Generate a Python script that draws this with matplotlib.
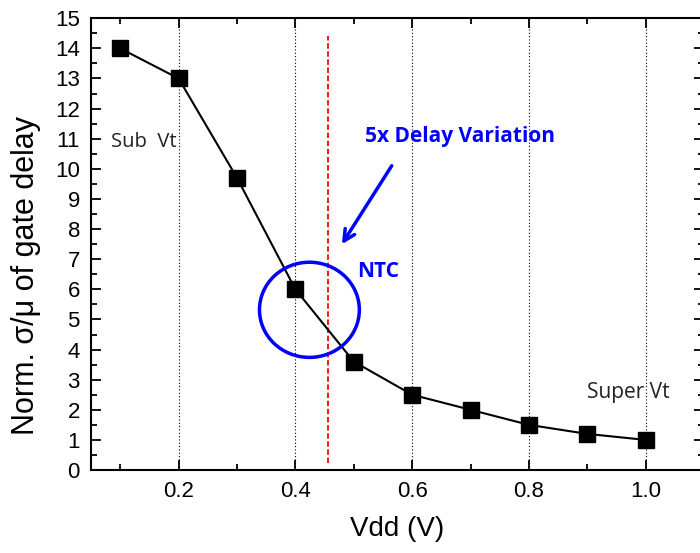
import matplotlib.pyplot as plt
from matplotlib.patches import Ellipse
from matplotlib.ticker import MultipleLocator, FormatStrFormatter

vdd = [0.1, 0.2, 0.3, 0.4, 0.5, 0.6, 0.7, 0.8, 0.9, 1.0]
norm_var = [14.0, 13.0, 9.7, 6.0, 3.6, 2.5, 2.0, 1.5, 1.2, 1.0]
ntc_vdd = 0.455

plt.rcParams['font.family'] = ['Liberation Sans', 'DejaVu Sans']

fig = plt.figure(figsize=(7, 5.53), dpi=100)
ax = fig.add_axes([0.13, 0.150, 0.876, 0.817])

# dotted vertical grid at major x ticks
for x in [0.2, 0.4, 0.6, 0.8, 1.0]:
    ax.axvline(x, color='black', linestyle=(0, (1, 2)), linewidth=0.8, zorder=1)

ax.plot(vdd, norm_var, color='black', linewidth=1.5, marker='s',
        markersize=11, markerfacecolor='black', zorder=3)

# NTC boundary
ax.plot([ntc_vdd, ntc_vdd], [0.23, 14.4], color='red', linestyle=(0, (3, 1.5)),
        linewidth=1.3, zorder=2)

# circle around the NTC region
ax.add_patch(Ellipse((0.424, 5.32), 0.171, 3.16, fill=False,
                     edgecolor='blue', linewidth=2.5, zorder=4))

ax.annotate('', xy=(0.477, 7.42), xytext=(0.5675, 10.18),
            arrowprops=dict(arrowstyle='->', color='blue', lw=2.5,
                            mutation_scale=20))

txt_fonts = ['Open Sans', 'DejaVu Sans']
ax.text(0.52, 11.07, '5x Delay Variation', color='blue', fontsize=15,
        fontweight='bold', family=txt_fonts, va='center', ha='left')
ax.text(0.506, 6.58, 'NTC', color='blue', fontsize=15, fontweight='bold',
        family=txt_fonts, va='center', ha='left')
ax.text(0.084, 10.9, 'Sub  Vt', color='#222222', fontsize=14.5,
        family=txt_fonts, va='center', ha='left')
ax.text(0.899, 2.59, 'Super Vt', color='#222222', fontsize=15,
        family=txt_fonts, va='center', ha='left')

ax.set_xlim(0.05, 1.1)
ax.set_ylim(0, 15)
ax.xaxis.set_major_locator(MultipleLocator(0.2))
ax.xaxis.set_minor_locator(MultipleLocator(0.1))
ax.xaxis.set_major_formatter(FormatStrFormatter('%.1f'))
ax.yaxis.set_major_locator(MultipleLocator(1))
ax.yaxis.set_minor_locator(MultipleLocator(0.5))
ax.tick_params(which='both', direction='in', top=True, right=True,
               labelsize=16, width=1.3)
ax.tick_params(which='major', length=7, pad=8)
ax.tick_params(which='minor', length=4)
for s in ax.spines.values():
    s.set_linewidth(1.5)

ax.set_xlabel('Vdd (V)', fontsize=20, labelpad=10)
ax.set_ylabel('Norm. σ/μ of gate delay', fontsize=22)
ax.yaxis.set_label_coords(-0.082, 0.43)

fig.savefig('out.png', dpi=100)
